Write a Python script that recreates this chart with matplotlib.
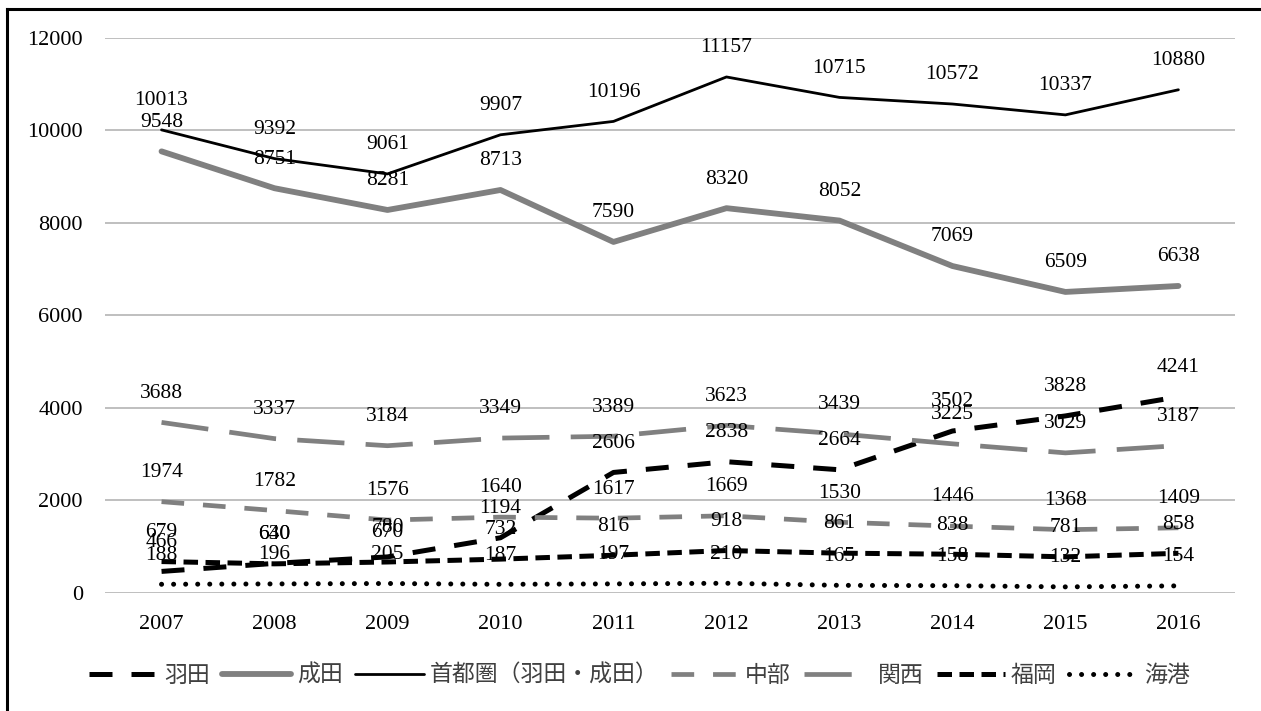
import matplotlib.pyplot as plt
from matplotlib.lines import Line2D

years = ['2007', '2008', '2009', '2010', '2011', '2012', '2013', '2014', '2015', '2016']

haneda = [466, 640, 780, 1194, 2606, 2838, 2664, 3502, 3828, 4241]
narita = [9548, 8751, 8281, 8713, 7590, 8320, 8052, 7069, 6509, 6638]
shutoken = [10013, 9392, 9061, 9907, 10196, 11157, 10715, 10572, 10337, 10880]
chubu = [1974, 1782, 1576, 1640, 1617, 1669, 1530, 1446, 1368, 1409]
kansai = [3688, 3337, 3184, 3349, 3389, 3623, 3439, 3225, 3029, 3187]
fukuoka = [679, 630, 670, 732, 816, 918, 861, 838, 781, 858]
kaiko = [188, 196, 205, 187, 197, 210, 165, 158, 132, 154]

names = ['羽田', '成田', '首都圏（羽田・成田）', '中部', '関西', '福岡', '海港']

plt.rcParams['font.family'] = ['Liberation Serif', 'Noto Sans CJK JP']

fig = plt.figure(figsize=(12.61, 7.11), dpi=100)
ax = fig.add_axes([0.0833, 0.166, 0.896, 0.7806])

x = range(len(years))
gray = '#808080'

series = [
    (haneda, dict(color='black', lw=3.6, dashes=(4.6, 3.8))),
    (narita, dict(color=gray, lw=4.2)),
    (shutoken, dict(color='black', lw=2.0)),
    (chubu, dict(color=gray, lw=3.4, dashes=(4.8, 4.0))),
    (kansai, dict(color=gray, lw=3.4, dashes=(10, 4.5))),
    (fukuoka, dict(color='black', lw=3.6, dashes=(2.9, 1.5))),
    (kaiko, dict(color='black', lw=3.6, dashes=(0.01, 2.4), dash_capstyle='round')),
]

for (vals, style), name in zip(series, names):
    ax.plot(x, vals, label=name, solid_capstyle='round', **style)

for vals, _ in series:
    for i, v in enumerate(vals):
        ax.annotate(str(v), (i, v), xytext=(0, 21), textcoords='offset points',
                    ha='center', va='center', fontsize=15.5, color='black',
                    zorder=10)

ax.set_xlim(-0.5, 9.5)
ax.set_ylim(0, 12000)
ax.set_yticks(range(0, 12001, 2000))
ax.set_xticks(list(x))
ax.set_xticklabels(years)
ax.tick_params(length=0, labelsize=16)
ax.tick_params(axis='y', pad=16)
ax.tick_params(axis='x', pad=16)
for s in ax.spines.values():
    s.set_visible(False)
ax.grid(axis='y', color='#bfbfbf', lw=1.4)
ax.set_axisbelow(True)

leg = ax.legend(loc='center', bbox_to_anchor=(0.473, -0.148), ncol=7, frameon=False,
                handlelength=3.0, handletextpad=0.25, columnspacing=0.55,
                prop={'family': ['Noto Sans CJK JP'], 'size': 16.5})
for t in leg.get_texts():
    t.set_color('#404040')

fig.add_artist(Line2D([7 / 1261, 7 / 1261], [0, 1 - 9 / 711], color='black', lw=2.2,
                      transform=fig.transFigure))
fig.add_artist(Line2D([7 / 1261, 1], [1 - 9 / 711, 1 - 9 / 711], color='black', lw=2.2,
                      transform=fig.transFigure))

fig.savefig('out.png', dpi=100)
